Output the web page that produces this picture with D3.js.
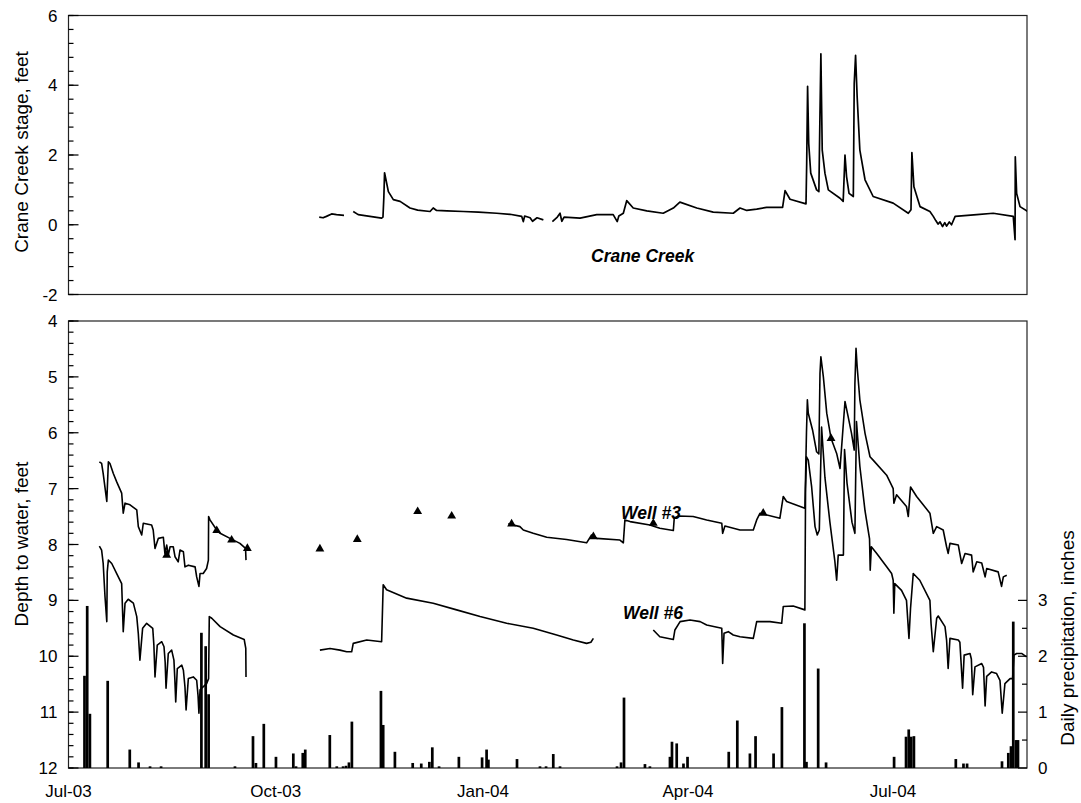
<!DOCTYPE html>
<html>
<head>
<meta charset="utf-8">
<script src="https://cdn.jsdelivr.net/npm/d3@7"></script>
<style>
body { margin: 0; background: #fff; }
text { font-family: "Liberation Sans", Arial, sans-serif; }
</style>
</head>
<body>
<div id="chart"></div>
<script>

// Time is kept as days since 1 Jul 2003
var startDate = Date.UTC(2003, 6, 1);
var endDay = 425.5;

var tickDays = [0, 92, 184, 275, 366];
var tickLabels = ["Jul-03", "Oct-03", "Jan-04", "Apr-04", "Jul-04"];

// Crane Creek stage, feet (null = gap in record)
var creekStage = [
  [111.3,0.22],[113,0.2],[114.5,0.24],[116.8,0.31],[119,0.29],[122.3,0.27],null,
  [126.4,0.38],[128.6,0.29],[133.8,0.24],[139.0,0.19],[139.6,0.22],[140.0,0.8],[140.3,1.49],[142.0,0.95],
  [144.2,0.72],[147.2,0.67],[151.6,0.48],[155,0.42],[160.5,0.38],[161.9,0.48],[163.4,0.41],[168,0.4],[175.3,0.38],
  [182,0.36],[190.1,0.33],[196,0.3],[201.2,0.24],[201.9,0.09],[202.5,0.25],[204.9,0.2],[206,0.1],[208,0.2],[210.8,0.14],null,
  [214.8,0.09],[217,0.22],[218.2,0.33],[219,0.1],[220,0.22],[227.1,0.19],[234.5,0.29],[241.8,0.29],
  [243.6,0.09],[244.3,0.25],[246.3,0.33],[247.8,0.69],[250.7,0.48],[256.7,0.40],[264,0.33],[268.5,0.48],
  [271.4,0.65],[278.9,0.48],[286.2,0.36],[295.1,0.33],[298.1,0.48],[301.1,0.41],[305.5,0.45],[309.9,0.5],
  [317.0,0.5],[318.1,0.98],[320.3,0.73],[327.4,0.6],[327.7,1.76],[328.1,3.97],[328.6,2.33],[329.5,1.48],
  [332.1,1.0],[333.1,0.95],[333.6,3.19],[334.0,4.9],[334.6,2.14],[335.8,1.48],[337.3,1.0],[342.5,0.76],
  [343.9,0.67],[344.7,2.0],[345.4,1.38],[346.5,0.9],[348.4,0.81],[348.8,4.05],[349.4,4.86],[350.1,3.67],
  [351.3,2.14],[353.6,1.29],[357.2,0.81],[366.1,0.62],[372.8,0.33],[374.0,0.43],[374.4,2.07],[375.3,1.09],
  [378.0,0.52],[382.4,0.38],[383.9,0.24],[385,0.12],[386,0.02],[386.9,0.08],[388,-0.05],[389,0.06],
  [389.8,-0.04],[391,0.08],[392,0.0],[393.6,0.24],[403.2,0.29],[410.5,0.33],[419.4,0.24],[420.2,-0.43],
  [420.3,1.95],[420.9,0.9],[422.4,0.52],[425.8,0.38]
];

// Well #3 depth to water, feet
var well3Depth = [
  [13.7,6.52],[14.7,6.55],[15.4,6.73],[17.0,7.23],[17.7,6.52],[18.4,6.55],[19.9,6.73],[21.4,6.88],
  [23.6,7.08],[24.3,7.44],[25.1,7.26],[27.3,7.29],[30.3,7.38],[31.0,7.68],[32.5,7.83],[33.2,7.62],
  [36.9,7.65],[37.6,7.74],[38.4,8.07],[39.9,7.89],[42.1,7.87],[42.8,8.16],[43.6,8.01],[44.3,8.19],
  [45.1,8.04],[46.5,8.04],[47.3,8.22],[48.7,8.31],[49.5,8.1],[51.0,8.13],[51.7,8.4],[53.2,8.37],
  [56.2,8.4],[56.9,8.58],[57.9,8.75],[58.4,8.52],[59.8,8.52],[61.3,8.43],[62.1,8.28],[62.2,7.5],
  [62.8,7.56],[65.8,7.74],[67.3,7.8],[71.7,7.89],[76.1,7.98],[78.6,8.07],[78.8,8.28],null,
  [195.2,7.63],[200.4,7.68],[201.9,7.74],[206.3,7.8],[212.3,7.87],[221.1,7.91],[230.0,7.97],[232.2,7.83],
  [234.5,7.89],[244.8,7.92],[246.3,7.97],[247.0,7.56],[249.3,7.59],[258.1,7.65],[262.5,7.71],[268.5,7.75],
  [268.9,7.53],[270.7,7.49],[277.3,7.5],[283.3,7.56],[290.0,7.62],[290.4,7.8],[291.4,7.67],[298.1,7.74],
  [304.0,7.74],[305.5,7.56],[307.0,7.44],[315.8,7.53],[317.3,7.14],[318.8,7.23],[326.9,7.35],[327.6,6.0],
  [328.0,5.41],[328.4,5.65],[330.3,5.95],[332.1,6.34],[333.1,6.38],[333.6,4.94],[334.0,4.64],[335.1,5.0],
  [336.6,5.65],[338.5,6.1],[341.0,6.37],[342.5,6.64],[344.7,5.44],[346.1,5.71],[347.6,6.01],[348.8,6.31],
  [349.1,5.12],[349.6,4.49],[350.1,4.82],[351.3,5.41],[353.6,6.01],[355.8,6.43],[357.2,6.49],[363.2,6.76],
  [366.1,7.0],[366.4,7.26],[367.6,7.11],[372.0,7.32],[372.8,7.5],[373.8,6.97],[376.5,7.14],[382.4,7.44],
  [383.9,7.8],[385.4,7.68],[388.3,7.74],[389.8,8.04],[390.5,8.16],[391.3,7.98],[395.0,8.01],[396.5,8.34],
  [398.0,8.16],[400.9,8.19],[401.6,8.49],[403.2,8.31],[405.4,8.33],[406.9,8.58],[407.6,8.43],[412.7,8.49],
  [414.2,8.75],[415.0,8.58],[416.5,8.55]
];

// Well #3 manual measurements (triangles)
var well3ManualDay = [43.6, 65.8, 72.4, 79.4, 111.6, 128.2, 155.0, 170.1, 196.7, 233.0, 259.6, 308.4, 338.5];
var well3ManualDepth = [8.19, 7.75, 7.92, 8.07, 8.08, 7.91, 7.41, 7.49, 7.63, 7.86, 7.62, 7.44, 6.1];

// Well #6 depth to water, feet
var well6Depth = [
  [13.7,8.03],[14.7,8.1],[15.4,8.34],[16.2,8.93],[17.0,9.38],[17.2,8.49],[17.7,8.28],[19.2,8.34],
  [21.4,8.52],[23.6,8.7],[24.3,9.56],[25.1,9.05],[26.5,8.98],[28.8,9.05],[30.3,9.29],[31.0,9.6],
  [31.7,10.07],[32.9,9.5],[34.7,9.41],[37.4,9.5],[37.9,9.8],[38.4,10.37],[39.4,9.8],[41.4,9.74],
  [42.4,9.83],[42.9,10.1],[43.3,10.57],[44.3,9.95],[45.8,9.89],[46.8,10.07],[47.2,10.4],[47.6,10.82],
  [48.3,10.22],[50.3,10.16],[51.0,10.25],[51.7,10.55],[52.2,10.96],[53.2,10.4],[55.4,10.37],[56.9,10.43],
  [57.5,10.7],[57.9,11.02],[58.4,10.6],[61.3,10.49],[62.2,10.4],[62.5,9.29],[63.6,9.32],[67.3,9.47],
  [73.2,9.62],[78.0,9.7],[78.7,9.86],[78.8,10.37],null,
  [111.6,9.89],[116.1,9.86],[120.5,9.89],[123.5,9.92],[125.7,9.92],[126.4,9.77],[132.4,9.71],[139.0,9.74],
  [139.7,8.72],[141.2,8.81],[150.1,8.96],[161.9,9.05],[172.3,9.17],[182.7,9.29],[194.5,9.41],[206.3,9.5],
  [216.7,9.62],[224.1,9.71],[230.0,9.77],[231.9,9.75],[233.0,9.68],null,
  [259.6,9.53],[262.5,9.65],[268.5,9.7],[269.2,9.53],[271.5,9.38],[275.9,9.35],[280.4,9.38],[283.3,9.44],
  [290.0,9.5],[290.4,10.13],[291.0,9.59],[292.9,9.56],[295.1,9.62],[298.1,9.65],[304.0,9.68],[305.5,9.38],
  [311.4,9.38],[316.6,9.41],[317.3,9.11],[321.7,9.1],[326.9,9.17],[327.2,7.0],[327.6,6.43],[328.4,6.49],
  [329.9,6.97],[331.4,7.68],[332.4,7.83],[333.3,7.74],[334.3,5.9],[335.8,6.8],[338.0,7.6],[340.2,8.3],
  [341.0,8.64],[341.7,8.19],[344.0,8.19],[344.5,6.3],[345.6,6.9],[347.8,7.6],[349.1,7.8],[349.8,5.8],
  [351.3,6.6],[353.6,7.4],[355.6,7.9],[355.9,8.46],[356.4,8.04],[358.8,8.16],[363.2,8.4],[365.4,8.52],
  [366.1,8.64],[366.4,9.23],[366.8,8.7],[369.8,8.82],[372.0,9.0],[373.1,9.68],[373.8,9.14],[375.0,8.52],
  [377.9,8.64],[382.4,9.0],[382.9,9.41],[383.9,9.92],[385.4,9.32],[386.1,9.28],[389.1,9.47],[389.8,9.71],
  [390.5,10.22],[391.3,9.68],[395.0,9.71],[395.7,9.75],[396.9,10.57],[397.6,9.98],[400.2,9.95],[400.8,10.05],
  [401.4,10.69],[402.4,10.19],[405.4,10.13],[406.2,10.2],[406.9,10.89],[407.6,10.36],[409.8,10.28],[412.0,10.31],
  [413.5,10.43],[414.5,11.02],[415.7,10.49],[418.0,10.4],[419.1,10.4],[419.7,9.98],[420.9,9.95],[423.1,9.95],
  [425.3,10.01]
];

// Daily precipitation, inches
var precipDay = [7.1, 8.3, 9.5, 17.4, 27.2, 31.1, 36.2, 41.1, 59.0, 60.9, 62.2, 73.9, 81.9, 83.2, 86.7,
  92.1, 99.8, 101.0, 104.0, 105.1, 116.0, 119.1, 121.9, 123.2, 124.5, 125.8, 138.7, 139.7, 144.9, 152.8,
  156.6, 160.2, 161.5, 164.5, 173.3, 183.6, 185.6, 186.4, 199.1, 209.3, 212.0, 215.2, 218.2, 243.5, 245.3,
  246.6, 255.9, 258.1, 267.0, 267.9, 270.0, 273.0, 274.8, 293.1, 296.9, 302.5, 305.0, 313.0, 316.7, 326.7,
  327.6, 332.8, 336.3, 366.5, 371.8, 373.0, 374.1, 375.3, 393.9, 397.3, 398.9, 414.4, 417.2, 418.4, 419.4,
  420.6, 421.5];
var precipInches = [1.65, 2.9, 0.97, 1.56, 0.33, 0.1, 0.03, 0.03, 2.42, 2.18, 1.32, 0.03, 0.57, 0.09, 0.79,
  0.2, 0.26, 0.03, 0.27, 0.33, 0.59, 0.03, 0.03, 0.04, 0.1, 0.83, 1.38, 0.77, 0.29, 0.09,
  0.08, 0.11, 0.37, 0.03, 0.2, 0.19, 0.33, 0.15, 0.16, 0.03, 0.03, 0.25, 0.03, 0.03, 0.1,
  1.26, 0.07, 0.03, 0.2, 0.47, 0.44, 0.08, 0.2, 0.29, 0.85, 0.26, 0.57, 0.26, 1.09, 2.59,
  0.11, 1.78, 0.1, 0.2, 0.56, 0.69, 0.56, 0.57, 0.16, 0.08, 0.08, 0.12, 0.27, 0.39, 2.62,
  0.5, 0.5];

function dayToDate(d) { return new Date(startDate + d * 864e5); }

var svgWidth = 1081;
var svgHeight = 803;
var plotLeft = 68.5, plotRight = 1027;
var topPanel = {top: 15.5, bottom: 294.5};
var botPanel = {top: 321, bottom: 768};
var labelFont = "17px";

var svg = d3.select("#chart")
  .append("svg")
  .attr("width", svgWidth)
  .attr("height", svgHeight);

var xScale = d3.scaleUtc()
  .domain([dayToDate(0), dayToDate(endDay)])
  .range([plotLeft, plotRight]);

var yStage = d3.scaleLinear().domain([-2, 6]).range([topPanel.bottom, topPanel.top]);
var yDepth = d3.scaleLinear().domain([4, 12]).range([botPanel.top, botPanel.bottom]);
var yPrecip = d3.scaleLinear().domain([0, 1]).range([botPanel.bottom, botPanel.bottom - (yDepth(5) - yDepth(4))]);

function tickRange(a, b, step) {
  var out = [];
  for (var v = a; v <= b + 1e-9; v += step) out.push(Math.round(v * 100) / 100);
  return out;
}

// tick marks as thin filled rects inside the box
function drawTicks(g, scale, values, x0, len) {
  g.append("g")
    .selectAll("rect")
    .data(values)
    .enter()
    .append("rect")
    .attr("x", len > 0 ? x0 : x0 + len)
    .attr("width", Math.abs(len))
    .attr("y", d => scale(d) - 0.6)
    .attr("height", 1.2)
    .attr("fill", "#000");
}

function drawLabels(g, scale, values, x, anchor) {
  g.append("g")
    .selectAll("text")
    .data(values)
    .enter()
    .append("text")
    .attr("x", x)
    .attr("y", d => scale(d))
    .attr("dy", "0.36em")
    .attr("text-anchor", anchor)
    .attr("font-size", labelFont)
    .attr("fill", "#000")
    .text(d => String(d));
}

// clip paths
var defs = svg.append("defs");
defs.append("clipPath").attr("id", "clipTop").append("rect")
  .attr("x", plotLeft).attr("y", topPanel.top).attr("width", plotRight - plotLeft).attr("height", topPanel.bottom - topPanel.top);
defs.append("clipPath").attr("id", "clipBot").append("rect")
  .attr("x", plotLeft).attr("y", botPanel.top).attr("width", plotRight - plotLeft).attr("height", botPanel.bottom - botPanel.top);

var lineStage = d3.line()
  .defined(d => d !== null)
  .x(d => xScale(dayToDate(d[0])))
  .y(d => yStage(d[1]));

var lineDepth = d3.line()
  .defined(d => d !== null)
  .x(d => xScale(dayToDate(d[0])))
  .y(d => yDepth(d[1]));

// ---------- top panel ----------
var topGroup = svg.append("g");

topGroup.append("rect")
  .attr("x", plotLeft).attr("y", topPanel.top)
  .attr("width", plotRight - plotLeft).attr("height", topPanel.bottom - topPanel.top)
  .attr("fill", "none").attr("stroke", "#222").attr("stroke-width", 1.2);

drawTicks(topGroup, yStage, tickRange(-2, 6, 0.4), plotLeft, 5);
drawTicks(topGroup, yStage, [-2, 0, 2, 4, 6], plotLeft, 10);
drawLabels(topGroup, yStage, [-2, 0, 2, 4, 6], plotLeft - 11, "end");

topGroup.append("path")
  .datum(creekStage)
  .attr("clip-path", "url(#clipTop)")
  .attr("d", lineStage)
  .attr("fill", "none")
  .attr("stroke", "#000")
  .attr("stroke-width", 1.7)
  .attr("stroke-linejoin", "round");

topGroup.append("text")
  .attr("x", 591).attr("y", 262)
  .attr("font-size", "17.5px").attr("font-weight", "bold").attr("font-style", "italic")
  .text("Crane Creek");

svg.append("text")
  .attr("transform", `translate(28, 152) rotate(-90)`)
  .attr("text-anchor", "middle")
  .attr("font-size", "19px")
  .text("Crane Creek stage, feet");

// ---------- bottom panel ----------
var botGroup = svg.append("g");

botGroup.append("rect")
  .attr("x", plotLeft).attr("y", botPanel.top)
  .attr("width", plotRight - plotLeft).attr("height", botPanel.bottom - botPanel.top)
  .attr("fill", "none").attr("stroke", "#222").attr("stroke-width", 1.2);

// precipitation bars
var barWidth = 2.7;
botGroup.append("g")
  .attr("clip-path", "url(#clipBot)")
  .selectAll("rect")
  .data(precipDay)
  .enter()
  .append("rect")
  .attr("x", (d, i) => xScale(dayToDate(d)) - barWidth / 2)
  .attr("y", (d, i) => yPrecip(precipInches[i]))
  .attr("width", barWidth)
  .attr("height", (d, i) => yPrecip(0) - yPrecip(precipInches[i]))
  .attr("fill", "#000");

drawTicks(botGroup, yDepth, tickRange(4, 12, 0.2), plotLeft, 5);
drawTicks(botGroup, yDepth, tickRange(4, 12, 1), plotLeft, 10);
drawLabels(botGroup, yDepth, tickRange(4, 12, 1), plotLeft - 11, "end");

drawTicks(botGroup, yPrecip, [0.5, 1.5, 2.5], plotRight, -5);
drawTicks(botGroup, yPrecip, [0, 1, 2, 3], plotRight, -9);
drawLabels(botGroup, yPrecip, [0, 1, 2, 3], plotRight + 11, "start");

// month labels on the time axis
botGroup.append("g")
  .selectAll("text")
  .data(tickDays)
  .enter()
  .append("text")
  .attr("x", d => xScale(dayToDate(d)))
  .attr("y", 797)
  .attr("text-anchor", "middle")
  .attr("font-size", labelFont)
  .text((d, i) => tickLabels[i]);

botGroup.append("path")
  .datum(well3Depth)
  .attr("clip-path", "url(#clipBot)")
  .attr("d", lineDepth)
  .attr("fill", "none")
  .attr("stroke", "#000")
  .attr("stroke-width", 1.6)
  .attr("stroke-linejoin", "round");

botGroup.append("path")
  .datum(well6Depth)
  .attr("clip-path", "url(#clipBot)")
  .attr("d", lineDepth)
  .attr("fill", "none")
  .attr("stroke", "#000")
  .attr("stroke-width", 1.6)
  .attr("stroke-linejoin", "round");

botGroup.selectAll(".manual")
  .data(well3ManualDay)
  .enter()
  .append("path")
  .attr("class", "manual")
  .attr("transform", (d, i) => `translate(${xScale(dayToDate(d))}, ${yDepth(well3ManualDepth[i])})`)
  .attr("d", d3.symbol(d3.symbolTriangle, 34))
  .attr("fill", "#000");

botGroup.append("text")
  .attr("x", 621).attr("y", 519)
  .attr("font-size", "17.5px").attr("font-weight", "bold").attr("font-style", "italic")
  .text("Well #3");

botGroup.append("text")
  .attr("x", 623).attr("y", 619)
  .attr("font-size", "17.5px").attr("font-weight", "bold").attr("font-style", "italic")
  .text("Well #6");

svg.append("text")
  .attr("transform", `translate(28, 544) rotate(-90)`)
  .attr("text-anchor", "middle")
  .attr("font-size", "19px")
  .text("Depth to water, feet");

svg.append("text")
  .attr("transform", `translate(1074, 638) rotate(-90)`)
  .attr("text-anchor", "middle")
  .attr("font-size", "19px")
  .text("Daily precipitation, inches");

</script>
</body>
</html>
